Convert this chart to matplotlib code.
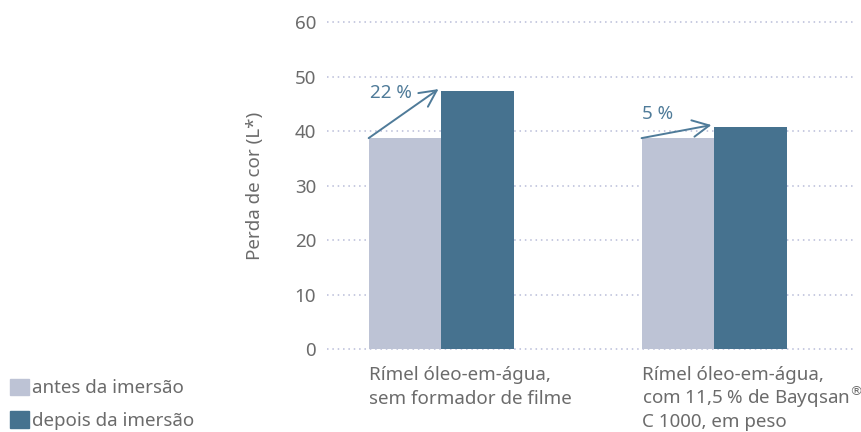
import matplotlib.pyplot as plt
import matplotlib.transforms as mtransforms
from matplotlib.patches import Patch
import numpy as np

plt.rcParams['font.family'] = ['Noto Sans', 'DejaVu Sans']

categories = [['Rímel óleo-em-água,', 'sem formador de filme'],
              ['Rímel óleo-em-água,', 'com 11,5 % de Bayqsan$^{\\circledR}$', 'C 1000, em peso']]
antes = [38.7, 38.7]
depois = [47.3, 40.7]
series_labels = ['antes da imersão', 'depois da imersão']
increase_labels = ['22 %', '5 %']
yticks = [0, 10, 20, 30, 40, 50, 60]

c_antes = '#bdc3d5'
c_depois = '#46728f'
c_text = '#6b6b6b'
c_arrow = '#4f7b99'
w = 0.266
fs = 13.5

fig = plt.figure(figsize=(8.61, 4.32), dpi=100)
ax = fig.add_axes([0.380, 0.192, 0.613, 0.757])

x = np.arange(len(categories))
ax.bar(x - w, antes, width=w, align='edge', color=c_antes, zorder=2)
ax.bar(x, depois, width=w, align='edge', color=c_depois, zorder=2)

# arrows from top of "antes" to top of "depois"
for i in range(len(categories)):
    ax.annotate('', xy=(x[i] - 0.01, depois[i] + 0.4), xytext=(x[i] - w, antes[i]),
                arrowprops=dict(arrowstyle='->,head_length=0.6,head_width=0.3',
                                color=c_arrow, lw=1.4,
                                mutation_scale=20, shrinkA=0, shrinkB=0), zorder=3)
ax.text(x[0] - w + 0.005, 47.0, increase_labels[0], color=c_arrow, fontsize=fs,
        ha='left', va='center')
ax.text(x[1] - w, 43.2, increase_labels[1], color=c_arrow, fontsize=fs,
        ha='left', va='center')

ax.set_xlim(-0.418, 1.516)
ax.set_ylim(0, 60)
ax.set_yticks(yticks)
ax.set_yticklabels([str(t) for t in yticks], color=c_text, fontsize=fs)
ax.grid(axis='y', color='#b8bcd8', linestyle=(0, (1, 2.5)), linewidth=1.1, zorder=1)
for g in ax.get_ygridlines():
    g.set_clip_on(False)
ax.tick_params(axis='y', length=0, pad=8)
ax.set_xticks([])
for s in ax.spines.values():
    s.set_visible(False)

ax.set_ylabel('Perda de cor (L*)', color=c_text, fontsize=fs, labelpad=22)

# category labels, one text per line so the spacing stays even
trans = mtransforms.blended_transform_factory(ax.transData, fig.transFigure)
for i, lines in enumerate(categories):
    for j, line in enumerate(lines):
        base_px = 380 + 23.5 * j
        ax.text(x[i] - w, 1 - base_px / 432, line, transform=trans, color=c_text,
                fontsize=fs, ha='left', va='baseline', clip_on=False)

handles = [Patch(color=c_antes), Patch(color=c_depois)]
fig.legend(handles, series_labels, loc='lower left', bbox_to_anchor=(-0.008, -0.035),
           frameon=False, fontsize=fs, handlelength=1.0, handleheight=1.0,
           handletextpad=0.2, labelspacing=0.75, labelcolor=c_text, borderpad=0.4)

plt.savefig('out.png', dpi=100)
plt.close()
